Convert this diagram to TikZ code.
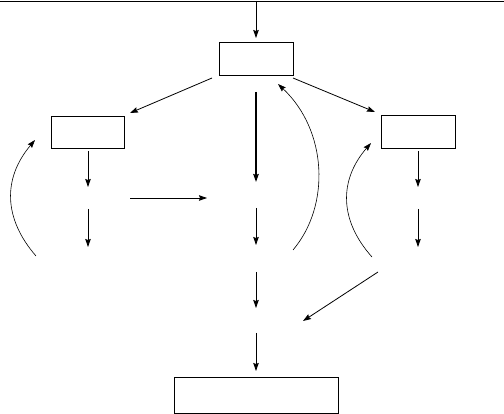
\documentclass[tikz,border=0pt]{standalone}
\usetikzlibrary{arrows.meta}
\begin{document}
\begin{tikzpicture}[x=1pt,y=-1pt,
  boxn/.style={draw,line width=0.8pt,inner sep=0pt},
  arr/.style={line width=0.8pt,-{Stealth[length=8pt,width=5.5pt,inset=1pt]}},
  thinarr/.style={line width=0.6pt,-{Stealth[length=8pt,width=5.5pt,inset=1pt]}},
  thin/.style={line width=0.6pt}]
\useasboundingbox (0,0) rectangle (504,414);
% boxes
\node[boxn,minimum width=74pt,minimum height=33pt] (top) at (256,58.5) {};
\node[boxn,minimum width=73pt,minimum height=32pt] (left) at (87.5,132) {};
\node[boxn,minimum width=74pt,minimum height=33pt] (right) at (418,131.5) {};
\node[boxn,minimum width=164pt,minimum height=36pt] (bot) at (256,395) {};
% top line
\coordinate (tl) at (0,1);
\coordinate (tr) at (504,1);
\coordinate (tm) at (256,1);
\draw[line width=0.8pt] (tl) -- (tr);
\coordinate (tmE) at (256,38);
\draw[arr] (tm) -- (tmE);
% diagonals from top box
\coordinate (dlS) at (212,78); \coordinate (dlE) at (130,113);
\coordinate (drS) at (293,78); \coordinate (drE) at (375,112);
\draw[arr] (dlS) -- (dlE);
\draw[arr] (drS) -- (drE);
% center column
\coordinate (c1S) at (256,92); \coordinate (c1E) at (256,182);
\coordinate (c2S) at (256,208); \coordinate (c2E) at (256,245);
\coordinate (c3S) at (256,272); \coordinate (c3E) at (256,308);
\coordinate (c4S) at (256,333); \coordinate (c4E) at (256,371);
\draw[line width=1.6pt,-{Stealth[length=8pt,width=5.5pt,inset=1pt]}] (c1S) -- (c1E);
\draw[arr] (c2S) -- (c2E);
\draw[arr] (c3S) -- (c3E);
\draw[arr] (c4S) -- (c4E);
% left column
\coordinate (l1S) at (88,151); \coordinate (l1E) at (88,187);
\coordinate (l2S) at (88,209); \coordinate (l2E) at (88,247);
\draw[arr] (l1S) -- (l1E);
\draw[arr] (l2S) -- (l2E);
% right column
\coordinate (r1S) at (418,151); \coordinate (r1E) at (418,187);
\coordinate (r2S) at (418,209); \coordinate (r2E) at (418,247);
\draw[arr] (r1S) -- (r1E);
\draw[arr] (r2S) -- (r2E);
% horizontal
\coordinate (hS) at (130,198); \coordinate (hE) at (207,198);
\draw[arr] (hS) -- (hE);
% diagonal lower right
\coordinate (dS) at (378,272); \coordinate (dE) at (303,321);
\draw[arr] (dS) -- (dE);
% arcs
\coordinate (a1S) at (36,256); \coordinate (a1E) at (35,140);
\draw[thinarr] (a1S) .. controls (3,218) and (3,178) .. (a1E);
\coordinate (a2S) at (293,250); \coordinate (a2E) at (278,84);
\draw[thinarr] (a2S) .. controls (331,205) and (327,130) .. (a2E);
\coordinate (a3S) at (372,257); \coordinate (a3E) at (371,143);
\draw[thinarr] (a3S) .. controls (339,220) and (339,180) .. (a3E);
\end{tikzpicture}
\end{document}
